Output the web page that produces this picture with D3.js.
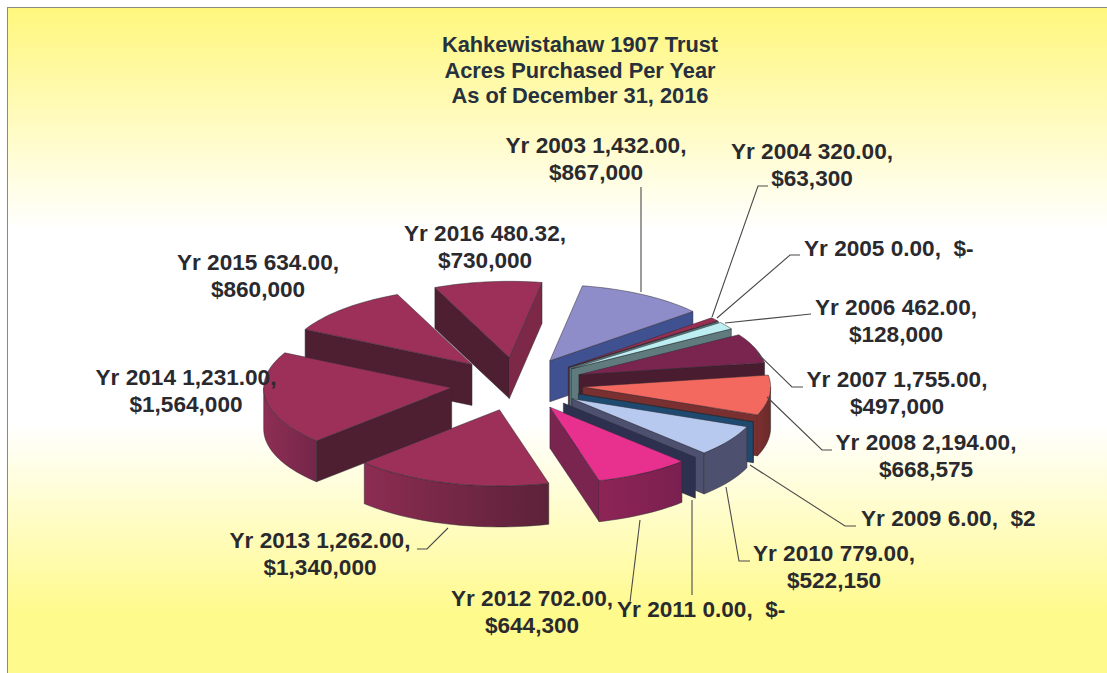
<!DOCTYPE html>
<html>
<head>
<meta charset="utf-8">
<script src="https://d3js.org/d3.v7.min.js"></script>
<style>
html, body { margin: 0; padding: 0; background: #fff; }
svg { display: block; }
text { font-family: "Liberation Sans", Arial, sans-serif; font-weight: bold; }
</style>
</head>
<body>
<div id="chart"></div>
<script>
var years = [2003, 2004, 2005, 2006, 2007, 2008, 2009, 2010, 2011, 2012, 2013, 2014, 2015, 2016];
var acres = [1432, 320, 0, 462, 1755, 2194, 6, 779, 0, 702, 1262, 1231, 634, 480.32];
var dollars = [867000, 63300, 0, 128000, 497000, 668575, 2, 522150, 0, 644300, 1340000, 1564000, 860000, 730000];
var titleLines = ["Kahkewistahaw 1907 Trust", "Acres Purchased Per Year", "As of December 31, 2016"];

// top, rim left, rim right, start wall, end wall
var wine = ["#9c3058", "#8c2c52", "#5c2238", "#4e1f30", "#7e2848"];
var sliceColors = [
    ["#8f8dc9", "#3f5190", "#3f5190", "#3f5190", "#3f5190"],
    ["#9a2e50", "#5a1f38", "#5a1f38", "#5a1f38", "#5a1f38"],
    ["#5a7a7e", "#5a7a7e", "#5a7a7e", "#5a7a7e", "#5a7a7e"],
    ["#bdeef2", "#5f7b7e", "#5f7b7e", "#5f7b7e", "#5f7b7e"],
    ["#7a2450", "#6a2244", "#6a2244", "#4a1c30", "#4a1c30"],
    ["#f4695f", "#7a3030", "#6a2a28", "#7a3030", "#7a3030"],
    ["#1f4a70", "#1f4a70", "#1f4a70", "#1f4a70", "#1f4a70"],
    ["#b8c9f0", "#4e5070", "#4e5070", "#4e5070", "#4e5070"],
    ["#2e3050", "#2e3050", "#2e3050", "#2e3050", "#2e3050"],
    ["#e8308f", "#8e2456", "#7a2050", "#7a2450", "#7a2450"],
    wine,
    ["#9c3058", "#8e2e54", "#74264a", "#4e1f30", "#7e2848"],
    wine, wine
];

// label anchor, first baseline and leader route
var labelLayout = [
    { x: 596, y: 153, anchor: "middle", leader: [[641, 292], [641, 187]] },
    { x: 812, y: 159, anchor: "middle", leader: [[712, 317], [758, 186], [768, 186]] },
    { x: 804, y: 256, anchor: "start", leader: [[717, 318], [790, 255], [800, 255]] },
    { x: 896, y: 315, anchor: "middle", leader: [[725, 323], [811, 314]] },
    { x: 897, y: 387, anchor: "middle", leader: [[757, 353], [792, 387], [803, 387]] },
    { x: 926, y: 450, anchor: "middle", leader: [[767, 397], [822, 450], [832, 450]] },
    { x: 861, y: 526, anchor: "start", leader: [[750, 465], [845, 526], [856, 526]] },
    { x: 834, y: 561, anchor: "middle", leader: [[726, 487], [739, 561], [750, 561]] },
    { x: 617, y: 617, anchor: "start", leader: [[692, 500], [692, 595]] },
    { x: 532, y: 606, anchor: "middle", leader: [[640, 520], [630, 602]] },
    { x: 320, y: 548, anchor: "middle", leader: [[448, 528], [427, 549], [417, 549]] },
    { x: 186, y: 385, anchor: "middle", leader: null },
    { x: 258, y: 270, anchor: "middle", leader: null },
    { x: 485, y: 241, anchor: "middle", leader: null }
];

var svgWidth = 1107, svgHeight = 673;
var cx = 517, cy = 384, radius = 188, tilt = 0.405, depth = 41, explode = 66;
var fontSize = 22.6, lineGap = 27;
var toRad = Math.PI / 180;

var svg = d3.select("#chart").append("svg")
    .attr("width", svgWidth)
    .attr("height", svgHeight);

var defs = svg.append("defs");
var bg = defs.append("linearGradient")
    .attr("id", "bg")
    .attr("x1", 0).attr("y1", 0).attr("x2", 0).attr("y2", 1);
bg.append("stop").attr("offset", "0%").attr("stop-color", "#fff77c");
bg.append("stop").attr("offset", "33%").attr("stop-color", "#ffffff");
bg.append("stop").attr("offset", "62%").attr("stop-color", "#ffffff");
bg.append("stop").attr("offset", "90%").attr("stop-color", "#fffa8c");
bg.append("stop").attr("offset", "100%").attr("stop-color", "#fffa8c");

svg.append("rect")
    .attr("x", 7.5).attr("y", 7.5)
    .attr("width", svgWidth).attr("height", svgHeight)
    .attr("fill", "url(#bg)")
    .attr("stroke", "#8a8a80");

// slices sized by dollars, angles clockwise from 12 o'clock
var pie = d3.pie().sort(null).value(function(d) { return d; })
    .startAngle(10 * toRad).endAngle(370 * toRad);

var slices = pie(dollars).map(function(d, i) {
    var mid = (d.startAngle + d.endAngle) / 2;
    return {
        i: i,
        a0: d.startAngle,
        a1: d.endAngle,
        mid: mid,
        ox: cx + explode * Math.sin(mid),
        oy: cy - explode * tilt * Math.cos(mid)
    };
});

function pt(s, a, r, drop) {
    return [s.ox + r * Math.sin(a), s.oy - r * tilt * Math.cos(a) + (drop || 0)];
}

function arcPts(s, a0, a1, drop) {
    var n = Math.max(2, Math.ceil((a1 - a0) / (2 * toRad)));
    return d3.range(n + 1).map(function(k) {
        return pt(s, a0 + (a1 - a0) * k / n, radius, drop);
    });
}

var line = d3.line();
function shape(p) { return line(p) + "Z"; }

// back slices first
var order = slices.slice().sort(function(a, b) { return Math.cos(b.mid) - Math.cos(a.mid); });

var pieGroup = svg.append("g").attr("stroke", "#2e2a30").attr("stroke-width", 0.5).attr("stroke-linejoin", "round");

order.forEach(function(s) {
    var c = sliceColors[s.i];
    var g = pieGroup.append("g").attr("class", "slice");
    var apex = pt(s, 0, 0);
    var apexLow = pt(s, 0, 0, depth);

    if (Math.sin(s.a0) < 0) {
        g.append("path").attr("fill", c[3])
            .attr("d", shape([apex, pt(s, s.a0, radius), pt(s, s.a0, radius, depth), apexLow]));
    }
    if (Math.sin(s.a1) > 0) {
        g.append("path").attr("fill", c[4])
            .attr("d", shape([apex, pt(s, s.a1, radius), pt(s, s.a1, radius, depth), apexLow]));
    }

    // outer rim, only the part facing the viewer (90 to 270 degrees)
    var r0 = Math.max(s.a0, 90 * toRad), r1 = Math.min(s.a1, 270 * toRad);
    if (r1 > r0) {
        var gradId = "rim" + s.i;
        var upper = arcPts(s, r0, r1, 0), lower = arcPts(s, r0, r1, depth).reverse();
        var grad = defs.append("linearGradient").attr("id", gradId)
            .attr("gradientUnits", "userSpaceOnUse")
            .attr("x1", d3.min(upper, function(p) { return p[0]; })).attr("y1", 0)
            .attr("x2", d3.max(upper, function(p) { return p[0]; })).attr("y2", 0);
        grad.append("stop").attr("offset", "0%").attr("stop-color", c[1]);
        grad.append("stop").attr("offset", "100%").attr("stop-color", c[2]);
        g.append("path").attr("fill", "url(#" + gradId + ")").attr("d", shape(upper.concat(lower)));
    }

    if (s.a1 > s.a0) {
        g.append("path").attr("fill", c[0])
            .attr("d", shape([apex].concat(arcPts(s, s.a0, s.a1, 0))));
    }
});

labelLayout.forEach(function(l) {
    if (!l.leader) return;
    svg.append("path")
        .attr("fill", "none").attr("stroke", "#4a4a4a").attr("stroke-width", 1.1)
        .attr("d", line(l.leader));
});

var fmtAcres = d3.format(",.2f"), fmtDollars = d3.format("$,");

function labelLines(i) {
    var head = "Yr " + years[i] + " " + fmtAcres(acres[i]) + ",";
    var money = dollars[i] === 0 ? "$-" : fmtDollars(dollars[i]);
    if (labelLayout[i].anchor === "start") return [head + "\u00a0\u00a0" + money];
    return [head, money];
}

years.forEach(function(y, i) {
    var l = labelLayout[i];
    labelLines(i).forEach(function(t, k) {
        svg.append("text")
            .attr("x", l.x).attr("y", l.y + k * lineGap)
            .attr("text-anchor", l.anchor)
            .attr("font-size", fontSize)
            .attr("fill", "#2a2a2e")
            .text(t);
    });
});

titleLines.forEach(function(t, k) {
    svg.append("text")
        .attr("x", 580).attr("y", 52 + k * 25.5)
        .attr("text-anchor", "middle")
        .attr("font-size", 21.8)
        .attr("fill", "#26303e")
        .text(t);
});
</script>
</body>
</html>
